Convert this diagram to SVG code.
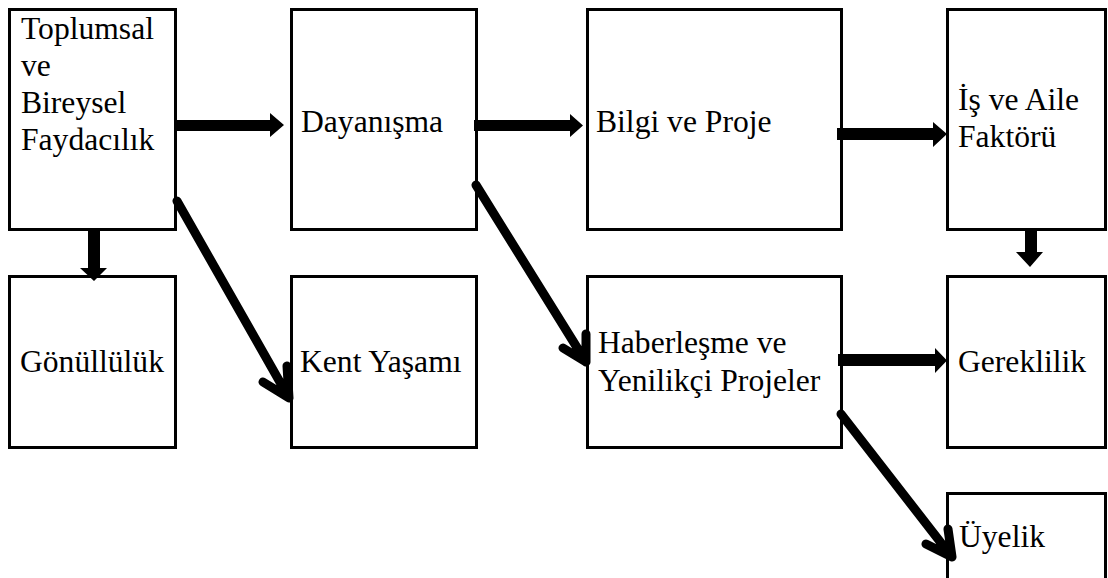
<svg xmlns="http://www.w3.org/2000/svg" width="1108" height="578" viewBox="0 0 1108 578">
<style>
.box{fill:#fff;stroke:#000;stroke-width:3}
.t{font-family:"Liberation Serif","Times New Roman",serif;font-size:31.6px;fill:#000}
.blk{fill:#000}
.dg{fill:none;stroke:#000;stroke-width:9;stroke-linecap:round;stroke-linejoin:round}
</style>
<rect width="1108" height="578" fill="#fff"/>
<g id="n1"><rect class="box" x="9.5" y="9.5" width="166" height="220"/>
<text class="t" x="21" y="39">Toplumsal</text><text class="t" x="21" y="76">ve</text><text class="t" x="21" y="113">Bireysel</text><text class="t" x="21" y="150">Faydacılık</text></g>
<g id="n2"><rect class="box" x="291.5" y="9.5" width="185" height="220"/><text class="t" x="301" y="132">Dayanışma</text></g>
<g id="n3"><rect class="box" x="587.5" y="9.5" width="254" height="220"/><text class="t" x="596" y="132">Bilgi ve Proje</text></g>
<g id="n4"><rect class="box" x="947.5" y="9.5" width="158" height="220"/><text class="t" x="958" y="110">İş ve Aile</text><text class="t" x="958" y="147">Faktörü</text></g>
<g id="n5"><rect class="box" x="9.5" y="276.5" width="166" height="171"/><text class="t" x="20" y="372">Gönüllülük</text></g>
<g id="n6"><rect class="box" x="291.5" y="276.5" width="185" height="171"/><text class="t" x="300" y="372">Kent Yaşamı</text></g>
<g id="n7"><rect class="box" x="587.5" y="276.5" width="254" height="171"/><text class="t" x="598" y="353">Haberleşme ve</text><text class="t" x="598" y="391">Yenilikçi Projeler</text></g>
<g id="n8"><rect class="box" x="947.5" y="276.5" width="158" height="171"/><text class="t" x="958" y="372">Gereklilik</text></g>
<g id="n9"><rect class="box" x="947.5" y="493.5" width="158" height="100"/><text class="t" x="959" y="547">Üyelik</text></g>
<g id="connectors">
<polygon class="blk" points="175,120 270,120 270,113 284,125 270,137 270,131 175,131"/>
<polygon class="blk" points="474,120 570,120 570,114 583,125.5 570,137 570,131 474,131"/>
<polygon class="blk" points="837,128 933,128 933,122 947,134 933,147 933,140 837,140"/>
<polygon class="blk" points="838,354 935,354 935,348 947,360.5 935,373 935,366 838,366"/>
<polygon class="blk" points="88,228 100,228 100,268 107,268 94,281 80,268 88,268"/>
<polygon class="blk" points="1025,228 1037,228 1037,252 1043,252 1030,267 1016,252 1025,252"/>
<path class="dg" d="M177,201 L289,398 M263,382 L289,398 L287,366"/>
<path class="dg" d="M476,185 L586,362 M563,348 L586,362 L586,334"/>
<path class="dg" d="M841,414 L952,557 M926,544 L952,557 L948,529"/>
</g>
</svg>
